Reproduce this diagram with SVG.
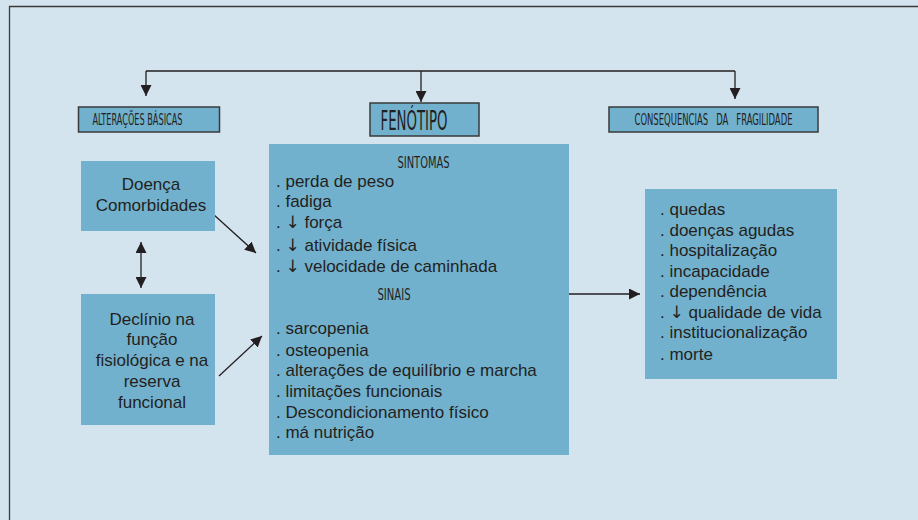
<svg xmlns="http://www.w3.org/2000/svg" width="918" height="520" viewBox="0 0 918 520">
<defs>
<marker id="ah" markerUnits="userSpaceOnUse" markerWidth="11" markerHeight="11" refX="11" refY="5.5" orient="auto-start-reverse" viewBox="0 0 11 11">
<path d="M0,0 L11,5.5 L0,11 z" fill="#231f20"/>
</marker>
<style>
.bg{fill:#d3e4ee}
.box{fill:#72b1cd}
.hbox{fill:#72b1cd;stroke:#3a3a3a;stroke-width:1.5}
.t{font-family:"Liberation Sans",Arial,sans-serif;font-size:17px;fill:#231f20}
.ar{font-family:"DejaVu Sans",sans-serif;font-size:17px;fill:#231f20}
.h{font-family:"Liberation Sans Narrow","DejaVu Sans Condensed","Liberation Sans",sans-serif;fill:#231f20;font-weight:500}
.c{text-anchor:middle}
.ln{stroke:#231f20;stroke-width:1.3;fill:none}
</style>
</defs>
<rect class="bg" x="0" y="0" width="918" height="520"/>
<path d="M9.5,530 L9.5,6.5 L930,6.5" fill="none" stroke="#3a3a3a" stroke-width="1.3"/>

<g id="connectors">
<path class="ln" d="M146,71 L735,71"/>
<path class="ln" d="M146,71 L146,96" marker-end="url(#ah)"/>
<path class="ln" d="M735,71 L735,99" marker-end="url(#ah)"/>
<path class="ln" d="M421,71 L421,102" marker-end="url(#ah)"/>
<path class="ln" d="M141,242 L141,288" marker-start="url(#ah)" marker-end="url(#ah)"/>
<path class="ln" d="M213,214 L256,253" marker-end="url(#ah)"/>
<path class="ln" d="M219,376 L262,336" marker-end="url(#ah)"/>
<path class="ln" d="M569,294 L640,294" marker-end="url(#ah)"/>
</g>

<g id="alteracoes">
<rect class="hbox" x="78.5" y="107" width="141" height="25"/>
<text class="h" x="92.5" y="125" font-size="16" textLength="90" lengthAdjust="spacingAndGlyphs">ALTERAÇÕES BÁSICAS</text>
</g>

<g id="fenotipo">
<rect class="hbox" x="370" y="103" width="109" height="33"/>
<text class="h" x="380.5" y="130" font-size="26" textLength="67" lengthAdjust="spacingAndGlyphs">FENÓTIPO</text>
</g>

<g id="consequencias">
<rect class="hbox" x="609" y="107" width="209" height="25"/>
<text class="h" x="634.5" y="124.5" font-size="16" textLength="158" lengthAdjust="spacingAndGlyphs" xml:space="preserve">CONSEQUENCIAS   DA   FRAGILIDADE</text>
</g>

<g id="fenotipo-conteudo">
<rect class="box" x="269" y="144" width="300" height="311"/>
<text class="h" x="397.5" y="167.5" font-size="16" textLength="52" lengthAdjust="spacingAndGlyphs">SINTOMAS</text>
<text class="t" x="276" y="187">. perda de peso</text>
<text class="t" x="276" y="207">. fadiga</text>
<text class="t" x="276" y="228">. <tspan class="ar">↓</tspan> força</text>
<text class="t" x="276" y="251">. <tspan class="ar">↓</tspan> atividade física</text>
<text class="t" x="276" y="272">. <tspan class="ar">↓</tspan> velocidade de caminhada</text>
<text class="h" x="377.5" y="299.5" font-size="16" textLength="33" lengthAdjust="spacingAndGlyphs">SINAIS</text>
<text class="t" x="276" y="334">. sarcopenia</text>
<text class="t" x="276" y="356">. osteopenia</text>
<text class="t" x="276" y="376">. alterações de equilíbrio e marcha</text>
<text class="t" x="276" y="397">. limitações funcionais</text>
<text class="t" x="276" y="418">. Descondicionamento físico</text>
<text class="t" x="276" y="438">. má nutrição</text>
</g>

<g id="doenca">
<rect class="box" x="81" y="161" width="134" height="70"/>
<text class="t c" x="151" y="190">Doença</text>
<text class="t c" x="151" y="211">Comorbidades</text>
</g>

<g id="declinio">
<rect class="box" x="81" y="294" width="134" height="131"/>
<text class="t c" x="152" y="325">Declínio na</text>
<text class="t c" x="152" y="345">função</text>
<text class="t c" x="152" y="366">fisiológica e na</text>
<text class="t c" x="152" y="387">reserva</text>
<text class="t c" x="152" y="408">funcional</text>
</g>

<g id="consequencias-lista">
<rect class="box" x="645" y="189" width="192" height="190"/>
<text class="t" x="660" y="215">. quedas</text>
<text class="t" x="660" y="236">. doenças agudas</text>
<text class="t" x="660" y="256">. hospitalização</text>
<text class="t" x="660" y="277">. incapacidade</text>
<text class="t" x="660" y="297">. dependência</text>
<text class="t" x="660" y="318">. <tspan class="ar">↓</tspan> qualidade de vida</text>
<text class="t" x="660" y="338">. institucionalização</text>
<text class="t" x="660" y="360">. morte</text>
</g>
</svg>
